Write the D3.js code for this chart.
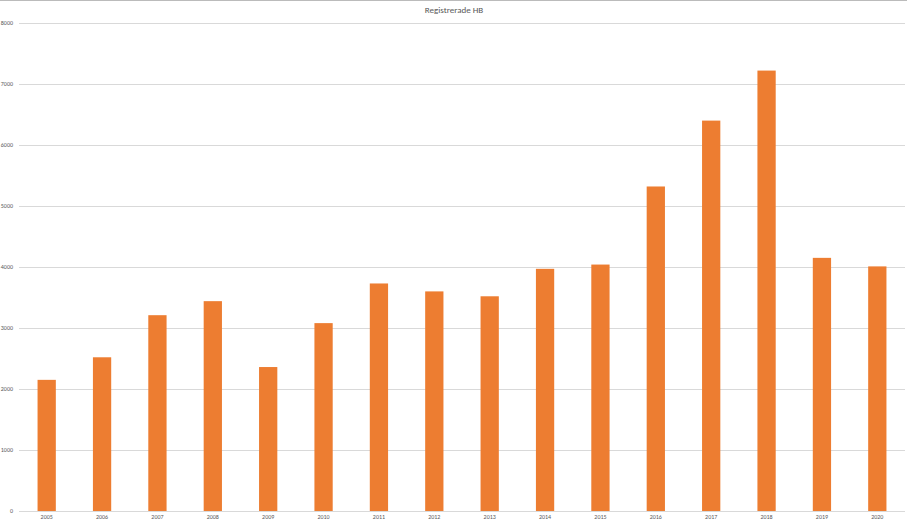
<!DOCTYPE html><html><head><meta charset="utf-8"><script src="https://cdn.jsdelivr.net/npm/d3@7"></script>
<style>body{margin:0;background:#fff}text{font-family:Calibri,"Liberation Sans",Arial,sans-serif}</style></head><body>
<svg id="c" width="907" height="522"></svg>
<script>
const years=["2005","2006","2007","2008","2009","2010","2011","2012","2013","2014","2015","2016","2017","2018","2019","2020"];
const values=[2150,2520,3210,3440,2360,3080,3730,3600,3520,3970,4040,5320,6400,7220,4150,4010];
const yTicks=[0,1000,2000,3000,4000,5000,6000,7000,8000];
const svg=d3.select("#c");
svg.append("line").attr("x1",0).attr("x2",907).attr("y1",0.5).attr("y2",0.5).attr("stroke","#bbb");
const x=d3.scaleBand().domain(years).range([19,905]).paddingInner(0.67).paddingOuter(0.335);
const y=d3.scaleLinear().domain([0,8000]).range([511,23]);
const g=svg.append("g");
g.selectAll("line.g").data(yTicks).join("line").attr("x1",19).attr("x2",905)
 .attr("y1",d=>Math.round(y(d))+0.5).attr("y2",d=>Math.round(y(d))+0.5).attr("stroke","#d9d9d9");
g.selectAll("text.y").data(yTicks).join("text").attr("x",13).attr("y",d=>y(d)+2).attr("text-anchor","end")
 .attr("font-size",6).attr("fill","#595959").text(d=>d);
g.selectAll("rect").data(values).join("rect").attr("x",(d,i)=>x(years[i])).attr("width",x.bandwidth())
 .attr("y",d=>y(d)).attr("height",d=>y(0)-y(d)).attr("fill","#ed7d31");
g.selectAll("text.x").data(years).join("text").attr("x",d=>x(d)+x.bandwidth()/2).attr("y",522-3)
 .attr("text-anchor","middle").attr("font-size",6).attr("fill","#595959").text(d=>d);
svg.append("text").attr("x",454).attr("y",13).attr("text-anchor","middle").attr("font-size",9).attr("fill","#595959").text("Registrerade HB");
</script></body></html>
